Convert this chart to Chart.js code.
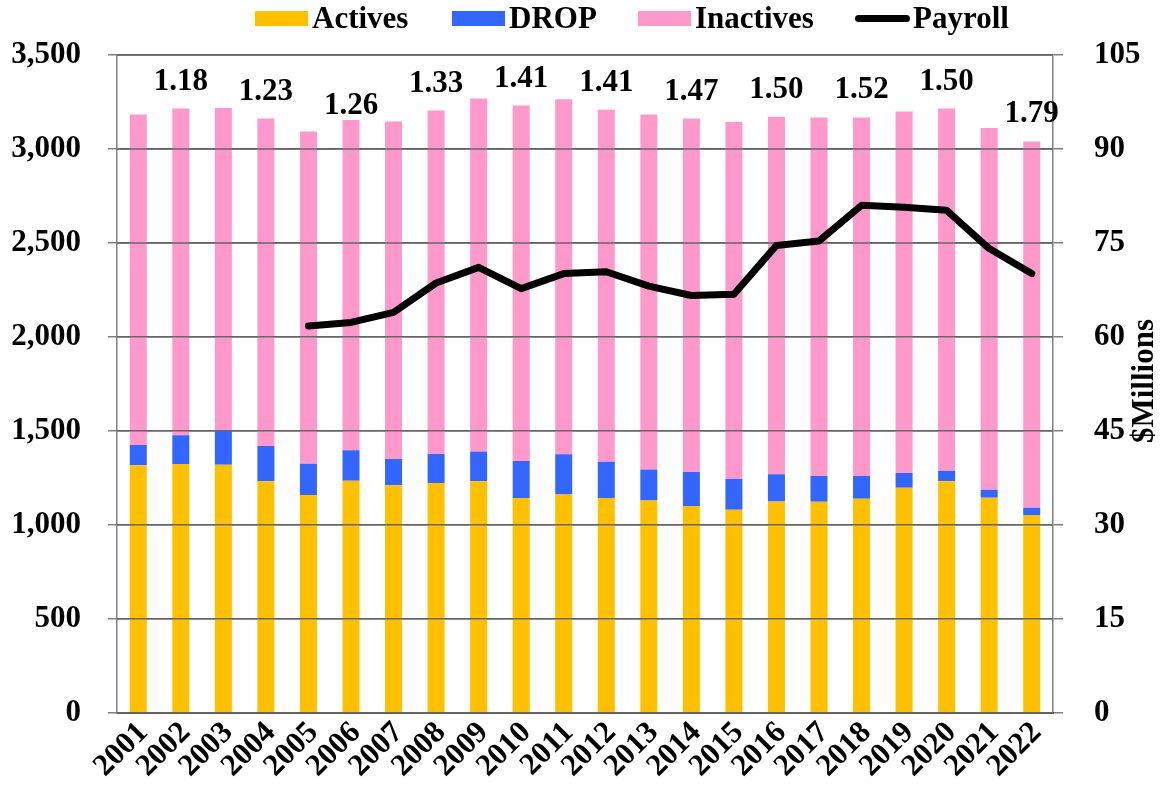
<!DOCTYPE html>
<html><head><meta charset="utf-8">
<script src="https://cdn.jsdelivr.net/npm/chart.js@4.4.1/dist/chart.umd.min.js"></script>
<style>
html,body{margin:0;padding:0;background:#fff;}
#wrap{position:relative;width:1163px;height:792px;}
#legend{position:absolute;top:0;left:0;width:1163px;height:38px;font:bold 31px "Liberation Serif","Times New Roman",serif;color:#000;}
.item{position:absolute;top:0;display:flex;align-items:center;height:36px;white-space:nowrap;}
.box{width:53px;height:15px;margin-right:4px;}
.lineSw{width:55px;height:7px;border-radius:4px;background:#000;margin-right:3px;}
canvas{position:absolute;top:0;left:0;}
</style></head>
<body>
<div id="wrap">
<canvas id="c" width="1163" height="792"></canvas>
<div id="legend"></div>
</div>
<script>
const years = ['2001','2002','2003','2004','2005','2006','2007','2008','2009','2010','2011','2012','2013','2014','2015','2016','2017','2018','2019','2020','2021','2022'];
const actives   = [1317,1324,1319,1232,1159,1234,1211,1223,1232,1142,1161,1142,1129,1100,1080,1124,1122,1138,1197,1232,1144,1052];
const drop      = [108,152,185,187,166,163,139,154,156,198,214,193,165,181,163,145,138,122,79,55,42,39];
const inactives = [1758,1739,1714,1743,1768,1757,1796,1827,1880,1891,1889,1874,1889,1881,1901,1902,1907,1908,1923,1928,1926,1949];
const payroll   = [null,null,null,null,61.75,62.3,63.9,68.6,71.1,67.7,70.1,70.4,68.1,66.6,66.8,74.6,75.3,81.0,80.7,80.2,74.1,70.1];
const ratioLabels = [null,'1.18',null,'1.23',null,'1.26',null,'1.33',null,'1.41',null,'1.41',null,'1.47',null,'1.50',null,'1.52',null,'1.50',null,'1.79'];
const seriesNames = ['Actives','DROP','Inactives','Payroll'];
const rightAxisTitle = '$Millions';

const FONT_FAMILY = '"Liberation Serif","Times New Roman",serif';
const colors = {Actives:'#FFC000', DROP:'#3366FF', Inactives:'#FF99CC', Payroll:'#000000'};

// HTML legend
const legendPos = [255, 452, 638, 855];
const lg = document.getElementById('legend');
seriesNames.forEach((n, i) => {
  const it = document.createElement('div');
  it.className = 'item';
  it.style.left = legendPos[i] + 'px';
  const sw = document.createElement('div');
  if (n === 'Payroll') { sw.className = 'lineSw'; }
  else { sw.className = 'box'; sw.style.background = colors[n]; }
  const tx = document.createElement('span');
  tx.textContent = n;
  it.appendChild(sw); it.appendChild(tx);
  lg.appendChild(it);
});

const gridOverBars = {
  id: 'gridOverBars',
  beforeDatasetDraw(chart, args) {
    if (chart.data.datasets[args.index].type !== 'line') return;
    const {ctx, chartArea} = chart;
    const ys = chart.scales.y;
    ctx.save();
    ctx.strokeStyle = '#666666';
    ctx.lineWidth = 1.5;
    ys.ticks.forEach((t, i) => {
      const py = ys.getPixelForTick(i);
      ctx.beginPath();
      ctx.moveTo(chartArea.left, py);
      ctx.lineTo(chartArea.right, py);
      ctx.stroke();
    });
    ctx.restore();
  }
};

const ratioPlugin = {
  id: 'ratioLabels',
  afterDatasetsDraw(chart, args, opts) {
    const {ctx} = chart;
    const meta = chart.getDatasetMeta(2);
    ctx.save();
    ctx.font = 'bold 31px ' + FONT_FAMILY;
    ctx.fillStyle = '#000';
    ctx.textAlign = 'center';
    ctx.textBaseline = 'alphabetic';
    ratioLabels.forEach((lab, i) => {
      if (!lab) return;
      const el = meta.data[i];
      const off = (opts.offsets && opts.offsets[i] !== undefined) ? opts.offsets[i] : opts.offset;
      ctx.fillText(lab, el.x, el.y - off);
    });
    ctx.restore();
  }
};

const rightTitle = {
  id: 'rightTitle',
  afterDraw(chart) {
    const {ctx} = chart;
    ctx.save();
    ctx.font = 'bold 31px ' + FONT_FAMILY;
    ctx.fillStyle = '#000';
    ctx.textAlign = 'center';
    ctx.textBaseline = 'middle';
    ctx.translate(1145, 381);
    ctx.rotate(-Math.PI / 2);
    ctx.fillText(rightAxisTitle, 0, 0);
    ctx.restore();
  }
};

const tickFont = {family: FONT_FAMILY, size: 31, weight: 'bold'};

new Chart(document.getElementById('c'), {
  data: {
    labels: years,
    datasets: [
      {type:'bar', label:'Actives', data: actives, backgroundColor: colors.Actives, stack:'s', order:1, barPercentage:0.4, categoryPercentage:1.0},
      {type:'bar', label:'DROP', data: drop, backgroundColor: colors.DROP, stack:'s', order:1, barPercentage:0.4, categoryPercentage:1.0},
      {type:'bar', label:'Inactives', data: inactives, backgroundColor: colors.Inactives, stack:'s', order:1, barPercentage:0.4, categoryPercentage:1.0},
      {type:'line', label:'Payroll', data: payroll, yAxisID:'y1', borderColor: colors.Payroll, backgroundColor: colors.Payroll, borderWidth:7, pointRadius:0, tension:0, spanGaps:false, order:0, borderCapStyle:'round', borderJoinStyle:'round'}
    ]
  },
  options: {
    responsive: false,
    animation: false,
    devicePixelRatio: 1,
    layout: {padding: {top: 55, left: 0, right: 0, bottom: 0}},
    plugins: {
      legend: {display: false},
      tooltip: {enabled: false},
      ratioLabels: {offset: 19, offsets: {5: 6}}
    },
    scales: {
      x: {
        stacked: true,
        grid: {display: false},
        border: {display: true, color: '#000', width: 1.5},
        ticks: {font: tickFont, color: '#000', minRotation: 45, maxRotation: 45, autoSkip: false, padding: -6, labelOffset: 5},
        afterFit(s) { s.height = 79.3; }
      },
      y: {
        stacked: true,
        position: 'left',
        min: 0, max: 3500,
        ticks: {stepSize: 500, font: tickFont, color: '#000', padding: 27,
          callback: v => v.toLocaleString('en-US')},
        grid: {color: '#666666', lineWidth: 1.5, tickLength: 9, tickColor: '#808080', tickWidth: 1.5},
        border: {color: '#808080', width: 1.5},
        afterFit(s) { s.width = 117; }
      },
      y1: {
        position: 'right',
        min: 0, max: 105,
        ticks: {stepSize: 15, font: tickFont, color: '#000', padding: 31},
        grid: {drawOnChartArea: false, tickLength: 10, color: '#808080', lineWidth: 1.5},
        border: {color: '#808080', width: 1.5},
        afterFit(s) { s.width = 110; }
      }
    }
  },
  plugins: [gridOverBars, ratioPlugin, rightTitle]
});
</script>
</body></html>
